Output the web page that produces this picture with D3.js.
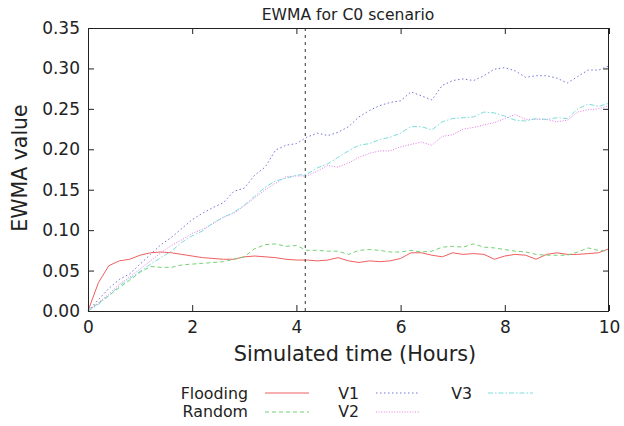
<!DOCTYPE html>
<html>
<head>
<meta charset="utf-8">
<script src="https://cdn.jsdelivr.net/npm/d3@7"></script>
<style>
  html, body { margin: 0; padding: 0; background: #fff; }
  svg { display: block; font-family: "DejaVu Sans", Verdana, sans-serif; }
</style>
</head>
<body>
<svg id="chart" width="624" height="426"></svg>
<script>
// Simulated time in hours (sampled every 0.2 h)
const times = [0, 0.2, 0.4, 0.6, 0.8, 1.0, 1.2, 1.4, 1.6, 1.8,
  2.0, 2.2, 2.4, 2.6, 2.8, 3.0, 3.2, 3.4, 3.6, 3.8,
  4.0, 4.2, 4.4, 4.6, 4.8, 5.0, 5.2, 5.4, 5.6, 5.8,
  6.0, 6.2, 6.4, 6.6, 6.8, 7.0, 7.2, 7.4, 7.6, 7.8,
  8.0, 8.2, 8.4, 8.6, 8.8, 9.0, 9.2, 9.4, 9.6, 9.8, 10.0];

const flooding = [0, 0.035, 0.056, 0.062, 0.064, 0.069, 0.072, 0.073, 0.072, 0.070,
  0.068, 0.066, 0.065, 0.064, 0.064, 0.067, 0.068, 0.067, 0.066, 0.064,
  0.063, 0.063, 0.062, 0.063, 0.066, 0.062, 0.060, 0.062, 0.061, 0.062,
  0.065, 0.072, 0.072, 0.069, 0.067, 0.072, 0.070, 0.071, 0.070, 0.064,
  0.068, 0.070, 0.069, 0.064, 0.070, 0.072, 0.070, 0.070, 0.071, 0.072, 0.077];

const random = [0, 0.010, 0.019, 0.029, 0.038, 0.048, 0.055, 0.054, 0.054, 0.057,
  0.058, 0.059, 0.060, 0.061, 0.064, 0.067, 0.077, 0.082, 0.083, 0.080,
  0.081, 0.075, 0.075, 0.074, 0.074, 0.070, 0.075, 0.076, 0.075, 0.073,
  0.073, 0.075, 0.073, 0.074, 0.079, 0.080, 0.079, 0.083, 0.079, 0.078,
  0.076, 0.074, 0.073, 0.070, 0.069, 0.069, 0.069, 0.073, 0.078, 0.075, 0.074];

const v1 = [0, 0.014, 0.028, 0.039, 0.046, 0.058, 0.070, 0.082, 0.091, 0.102,
  0.113, 0.121, 0.128, 0.134, 0.148, 0.152, 0.168, 0.178, 0.199, 0.205,
  0.207, 0.215, 0.220, 0.217, 0.221, 0.228, 0.240, 0.248, 0.254, 0.258,
  0.260, 0.271, 0.266, 0.261, 0.279, 0.285, 0.287, 0.285, 0.291, 0.299,
  0.301, 0.297, 0.289, 0.291, 0.291, 0.288, 0.282, 0.290, 0.298, 0.298, 0.303];

const v2 = [0, 0.010, 0.021, 0.033, 0.042, 0.052, 0.062, 0.072, 0.081, 0.088,
  0.096, 0.101, 0.108, 0.116, 0.121, 0.130, 0.140, 0.150, 0.158, 0.166,
  0.167, 0.167, 0.173, 0.180, 0.178, 0.183, 0.190, 0.195, 0.198, 0.198,
  0.203, 0.206, 0.209, 0.205, 0.216, 0.218, 0.225, 0.227, 0.230, 0.233,
  0.238, 0.243, 0.237, 0.237, 0.237, 0.234, 0.236, 0.246, 0.249, 0.250, 0.254];

const v3 = [0, 0.008, 0.019, 0.031, 0.040, 0.049, 0.058, 0.066, 0.074, 0.085,
  0.093, 0.099, 0.109, 0.116, 0.122, 0.131, 0.142, 0.153, 0.161, 0.164,
  0.168, 0.169, 0.177, 0.182, 0.190, 0.198, 0.205, 0.207, 0.212, 0.215,
  0.220, 0.228, 0.228, 0.224, 0.234, 0.238, 0.239, 0.240, 0.246, 0.245,
  0.241, 0.236, 0.235, 0.238, 0.237, 0.239, 0.238, 0.250, 0.256, 0.253, 0.257];

const seriesNames = ["Flooding", "Random", "V1", "V2", "V3"];
const xTicks = [0, 2, 4, 6, 8, 10];
const yTicks = [0, 0.05, 0.10, 0.15, 0.20, 0.25, 0.30, 0.35];
const markerTime = 4.17;

const styles = {
  "Flooding": { color: "#ee5f5f", dash: null },
  "Random":   { color: "#72d272", dash: "4,3" },
  "V1":       { color: "#7474d8", dash: "1.5,2.5" },
  "V2":       { color: "#e47ae4", dash: "1,1.6" },
  "V3":       { color: "#7cdcdc", dash: "5,2,1.5,2" }
};
const values = { "Flooding": flooding, "Random": random, "V1": v1, "V2": v2, "V3": v3 };

const svg = d3.select("#chart");
const m = { left: 88, right: 609, top: 28, bottom: 311 };

const x = d3.scaleLinear().domain([0, 10]).range([m.left, m.right]);
const y = d3.scaleLinear().domain([0, 0.35]).range([m.bottom, m.top]);

// Axes with inward ticks on all four sides
const tickLen = 6;
const fontTick = 17;
svg.append("g").attr("transform", `translate(0,${m.bottom})`)
  .call(d3.axisBottom(x).tickValues(xTicks).tickSize(-tickLen).tickPadding(10).tickFormat(d3.format("d")))
  .call(g => g.select(".domain").remove());
svg.append("g").attr("transform", `translate(0,${m.top})`)
  .call(d3.axisTop(x).tickValues(xTicks).tickSize(-tickLen).tickFormat(""))
  .call(g => g.select(".domain").remove());
svg.append("g").attr("transform", `translate(${m.left},0)`)
  .call(d3.axisLeft(y).tickValues(yTicks).tickSize(-tickLen).tickPadding(8).tickFormat(d3.format(".2f")))
  .call(g => g.select(".domain").remove());
svg.append("g").attr("transform", `translate(${m.right},0)`)
  .call(d3.axisRight(y).tickValues(yTicks).tickSize(-tickLen).tickFormat(""))
  .call(g => g.select(".domain").remove());

svg.selectAll(".tick line").attr("stroke", "#222").attr("stroke-width", 1);
svg.selectAll(".tick text")
  .attr("font-family", "DejaVu Sans, Verdana, sans-serif")
  .attr("font-size", fontTick).attr("fill", "#222");

// Series lines
const line = d3.line().x((d, i) => x(times[i])).y(d => y(d));
const plot = svg.append("g");
seriesNames.forEach(name => {
  plot.append("path")
    .datum(values[name])
    .attr("fill", "none")
    .attr("stroke", styles[name].color)
    .attr("stroke-width", 1)
    .attr("stroke-dasharray", styles[name].dash)
    .attr("d", line);
});

// Vertical dashed marker
svg.append("line")
  .attr("x1", x(markerTime)).attr("x2", x(markerTime))
  .attr("y1", y(0.35)).attr("y2", y(0))
  .attr("stroke", "#333").attr("stroke-width", 1)
  .attr("stroke-dasharray", "3,4");

// Plot frame
svg.append("rect")
  .attr("x", m.left + 0.5).attr("y", m.top + 0.5)
  .attr("width", m.right - m.left - 1).attr("height", m.bottom - m.top)
  .attr("fill", "none").attr("stroke", "#222").attr("stroke-width", 1);

// Title and axis labels
svg.append("text").attr("x", 348).attr("y", 20)
  .attr("text-anchor", "middle").attr("font-size", 15.6).attr("fill", "#222")
  .text("EWMA for C0 scenario");
svg.append("text").attr("x", 355).attr("y", 361)
  .attr("text-anchor", "middle").attr("font-size", 20.8).attr("fill", "#222")
  .text("Simulated time (Hours)");
svg.append("text")
  .attr("transform", "translate(27,168) rotate(-90)")
  .attr("text-anchor", "middle").attr("font-size", 20.5).attr("fill", "#222")
  .text("EWMA value");

// Legend (three columns, two rows)
const legendItems = [
  { name: "Flooding", tx: 248, ty: 399, lx1: 265, lx2: 309, ly: 393 },
  { name: "Random",   tx: 248, ty: 417, lx1: 265, lx2: 309, ly: 412 },
  { name: "V1",       tx: 359, ty: 399, lx1: 376, lx2: 420, ly: 393 },
  { name: "V2",       tx: 359, ty: 417, lx1: 376, lx2: 420, ly: 412 },
  { name: "V3",       tx: 472, ty: 399, lx1: 488, lx2: 533, ly: 393 }
];
const legend = svg.append("g");
legendItems.forEach(it => {
  legend.append("text").attr("x", it.tx).attr("y", it.ty)
    .attr("text-anchor", "end").attr("font-size", 15.8).attr("fill", "#222")
    .text(it.name);
  legend.append("line")
    .attr("x1", it.lx1).attr("x2", it.lx2).attr("y1", it.ly).attr("y2", it.ly)
    .attr("stroke", styles[it.name].color).attr("stroke-width", 1)
    .attr("stroke-dasharray", styles[it.name].dash);
});
</script>
</body>
</html>
